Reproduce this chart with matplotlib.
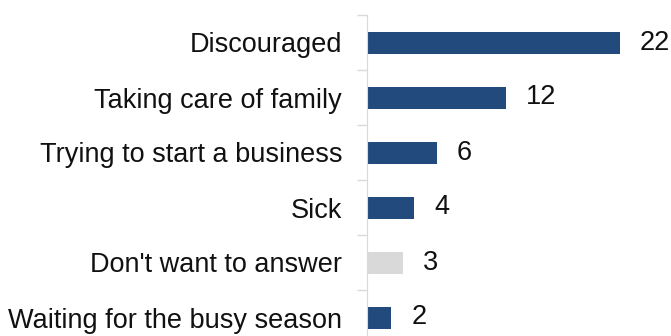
import numpy as np
import matplotlib
matplotlib.use("Agg")
import matplotlib.pyplot as plt

plt.rcParams["font.family"] = ["Liberation Sans", "DejaVu Sans"]

reasons = ["Discouraged", "Taking care of family", "Trying to start a business",
           "Sick", "Don't want to answer", "Waiting for the busy season"]
counts = [22, 12, 6, 4, 3, 2]
bar_colors = ["#234a7c", "#234a7c", "#234a7c", "#234a7c", "#d9d9d9", "#234a7c"]

fig = plt.figure(figsize=(6.71, 3.36), dpi=100)
ax = fig.add_axes([367 / 671, -9 / 336, 304 / 671, 330 / 336])

ys = np.arange(len(reasons))
ax.barh(ys, counts, height=0.4, color=bar_colors, left=0.12)

for y, v in zip(ys, counts):
    ax.annotate(str(v), (v + 0.12, y), xytext=(14.5, 0), textcoords="offset points",
                ha="left", va="center", fontsize=19.5, color="#111111")

ax.set_ylim(len(reasons) - 0.5, -0.5)
ax.set_xlim(0, 26.6)

# category labels on minor ticks, separators on major ticks
ax.set_yticks(np.arange(len(reasons) + 1) - 0.5)
ax.set_yticklabels([])
ax.set_yticks(ys, minor=True)
ax.set_yticklabels(reasons, minor=True, fontsize=19.5, color="#111111")
ax.tick_params(axis="y", which="major", length=7, color="#d9d9d9", width=1)
ax.tick_params(axis="y", which="minor", length=0, pad=18)

ax.set_xticks([])
for s in ("top", "right", "bottom"):
    ax.spines[s].set_visible(False)
ax.spines["left"].set_color("#d9d9d9")

fig.savefig("out.png", dpi=100)
